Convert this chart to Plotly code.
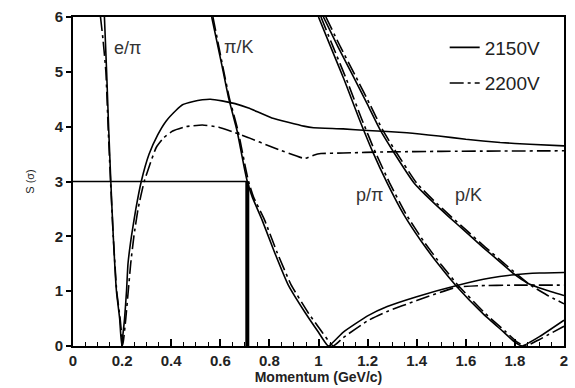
import plotly.graph_objects as go

# ---- data ----
# e/pi separation, 2150V (solid)
epi_2150_x = [0.128, 0.137, 0.145, 0.154, 0.164, 0.177, 0.190, 0.198, 0.210, 0.218, 0.224, 0.238, 0.256,
              0.278, 0.31, 0.345, 0.379, 0.42, 0.446, 0.49, 0.527, 0.56, 0.607, 0.66, 0.715, 0.81, 0.94,
              0.98, 1.1, 1.2, 1.36, 1.49, 1.6, 1.74, 1.86, 2.0]
epi_2150_y = [6.0, 5.0, 4.0, 3.0, 2.0, 1.0, 0.5, 0.02, 0.5, 1.0, 1.5, 2.0, 2.5,
              3.0, 3.5, 3.85, 4.1, 4.3, 4.4, 4.46, 4.49, 4.5, 4.47, 4.42, 4.34, 4.16, 4.01,
              3.98, 3.96, 3.93, 3.89, 3.83, 3.77, 3.71, 3.68, 3.65]
# e/pi separation, 2200V (dash-dot)
epi_2200_x = [0.112, 0.122, 0.134, 0.143, 0.153, 0.164, 0.178, 0.192, 0.203, 0.215, 0.225, 0.235, 0.248,
              0.265, 0.29, 0.339, 0.37, 0.406, 0.46, 0.527, 0.594, 0.66, 0.715, 0.81, 0.944, 0.98,
              1.01, 1.1, 1.28, 1.5, 2.0]
epi_2200_y = [6.0, 5.6, 5.0, 4.0, 3.0, 2.0, 1.0, 0.5, 0.02, 0.5, 1.0, 1.5, 2.0,
              2.5, 3.0, 3.62, 3.8, 3.92, 4.0, 4.03, 3.99, 3.89, 3.80, 3.63, 3.42, 3.48,
              3.51, 3.52, 3.54, 3.55, 3.56]
# pi/K separation
pik_2150_x = [0.565, 0.607, 0.634, 0.668, 0.70, 0.71, 0.73, 0.77, 0.82, 0.876, 0.944, 1.0, 1.04,
              1.1, 1.2, 1.28, 1.4, 1.56, 1.7, 1.8, 1.9, 2.0]
pik_2150_y = [6.0, 5.11, 4.52, 3.93, 3.2, 3.0, 2.72, 2.3, 1.72, 1.12, 0.62, 0.25, 0.0,
              0.25, 0.55, 0.72, 0.9, 1.1, 1.24, 1.3, 1.33, 1.34]
pik_2200_x = [0.57, 0.61, 0.637, 0.672, 0.705, 0.715, 0.735, 0.78, 0.83, 0.888, 0.956, 1.015, 1.06,
              1.1, 1.2, 1.28, 1.4, 1.56, 1.65, 1.8, 2.0]
pik_2200_y = [6.0, 5.1, 4.52, 3.93, 3.2, 3.0, 2.72, 2.3, 1.72, 1.12, 0.62, 0.25, 0.0,
              0.15, 0.46, 0.63, 0.83, 1.07, 1.1, 1.11, 1.11]
# p/pi separation
ppi_2150_x = [1.0, 1.05, 1.105, 1.165, 1.22, 1.28, 1.347, 1.42, 1.49, 1.56, 1.67, 1.75, 1.80, 1.83, 1.9, 2.0]
ppi_2150_y = [6.0, 5.45, 4.85, 4.15, 3.55, 2.97, 2.4, 1.9, 1.48, 1.1, 0.59, 0.27, 0.07, 0.0, 0.17, 0.47]
ppi_2200_x = [1.01, 1.06, 1.115, 1.175, 1.23, 1.29, 1.357, 1.43, 1.50, 1.57, 1.68, 1.76, 1.81, 1.845, 1.9, 2.0]
ppi_2200_y = [6.0, 5.45, 4.85, 4.15, 3.55, 2.97, 2.4, 1.9, 1.48, 1.1, 0.59, 0.27, 0.07, 0.0, 0.12, 0.36]
# p/K separation
pk_2150_x = [1.02, 1.08, 1.14, 1.20, 1.25, 1.30, 1.39, 1.46, 1.53, 1.60, 1.67, 1.74, 1.80, 1.85, 1.92, 2.0]
pk_2150_y = [6.0, 5.45, 4.93, 4.4, 3.95, 3.58, 2.97, 2.65, 2.36, 2.08, 1.8, 1.53, 1.30, 1.15, 1.03, 0.92]
pk_2200_x = [1.03, 1.09, 1.15, 1.21, 1.26, 1.31, 1.40, 1.47, 1.54, 1.61, 1.68, 1.75, 1.81, 1.86, 1.93, 2.0]
pk_2200_y = [6.0, 5.45, 4.93, 4.4, 3.95, 3.58, 2.97, 2.65, 2.36, 2.08, 1.8, 1.53, 1.30, 1.12, 0.93, 0.77]

# 3 sigma threshold and pi/K crossover momentum
sigma_threshold = 3.0
crossover_p = 0.71

series_names = ["2150V", "2200V"]
curve_labels = ["e/π", "π/K", "p/π", "p/K"]
label_x = [0.223, 0.675, 1.207, 1.61]
label_y = [5.44, 5.45, 2.76, 2.76]


def join(*pairs):
    xs, ys = [], []
    for x, y in pairs:
        xs += list(x) + [None]
        ys += list(y) + [None]
    return xs, ys


sx, sy = join((epi_2150_x, epi_2150_y), (pik_2150_x, pik_2150_y),
              (ppi_2150_x, ppi_2150_y), (pk_2150_x, pk_2150_y))
dx, dy = join((epi_2200_x, epi_2200_y), (pik_2200_x, pik_2200_y),
              (ppi_2200_x, ppi_2200_y), (pk_2200_x, pk_2200_y))

fig = go.Figure()
fig.add_trace(go.Scatter(x=sx, y=sy, mode="lines", name=series_names[0], legendgroup="a",
                         line=dict(color="black", width=1.6, shape="spline", smoothing=0.4)))
fig.add_trace(go.Scatter(x=dx, y=dy, mode="lines", name=series_names[1], legendgroup="b",
                         line=dict(color="black", width=1.6, dash="14px,4px,3px,4px",
                                   shape="spline", smoothing=0.4)))
fig.add_trace(go.Scatter(x=[0, crossover_p], y=[sigma_threshold, sigma_threshold], mode="lines",
                         showlegend=False, line=dict(color="black", width=1.6)))
fig.add_trace(go.Scatter(x=[crossover_p, crossover_p], y=[0, sigma_threshold], mode="lines",
                         showlegend=False, line=dict(color="black", width=4)))

for t, x, y in zip(curve_labels, label_x, label_y):
    fig.add_annotation(x=x, y=y, text=t, showarrow=False,
                       font=dict(family="Liberation Sans, Arial", size=18, color="#333"))

fig.update_layout(
    width=575, height=388,
    margin=dict(l=73, r=7, t=17, b=35),
    paper_bgcolor="white", plot_bgcolor="white",
    font=dict(family="Liberation Sans, Arial", color="#222"),
    legend=dict(x=0.757, y=0.965, xanchor="left", yanchor="top",
                font=dict(size=19, color="#222"), bgcolor="rgba(0,0,0,0)",
                tracegroupgap=8, traceorder="grouped"),
    xaxis=dict(range=[0, 2], dtick=0.2, tick0=0, ticks="inside", ticklen=7, tickwidth=1.5,
               tickcolor="black", showline=True, linewidth=2, linecolor="black", mirror=True,
               showgrid=False, zeroline=False,
               minor=dict(dtick=0.05, ticks="inside", ticklen=4, tickwidth=1.2, tickcolor="black"),
               tickfont=dict(size=15, weight="bold", color="#222"),
               title=dict(text="Momentum (GeV/c)", font=dict(size=14, weight="bold", color="#222"),
                          standoff=2)),
    yaxis=dict(range=[0, 6], dtick=1, ticks="outside", ticklen=5, tickwidth=1.5,
               tickcolor="black", showline=True, linewidth=2, linecolor="black", mirror=True,
               showgrid=False, zeroline=False,
               tickfont=dict(size=15, weight="bold", color="#222"),
               title=dict(text="S (σ)", font=dict(size=11, color="#222"), standoff=18)),
)

fig.write_html("out.html")
